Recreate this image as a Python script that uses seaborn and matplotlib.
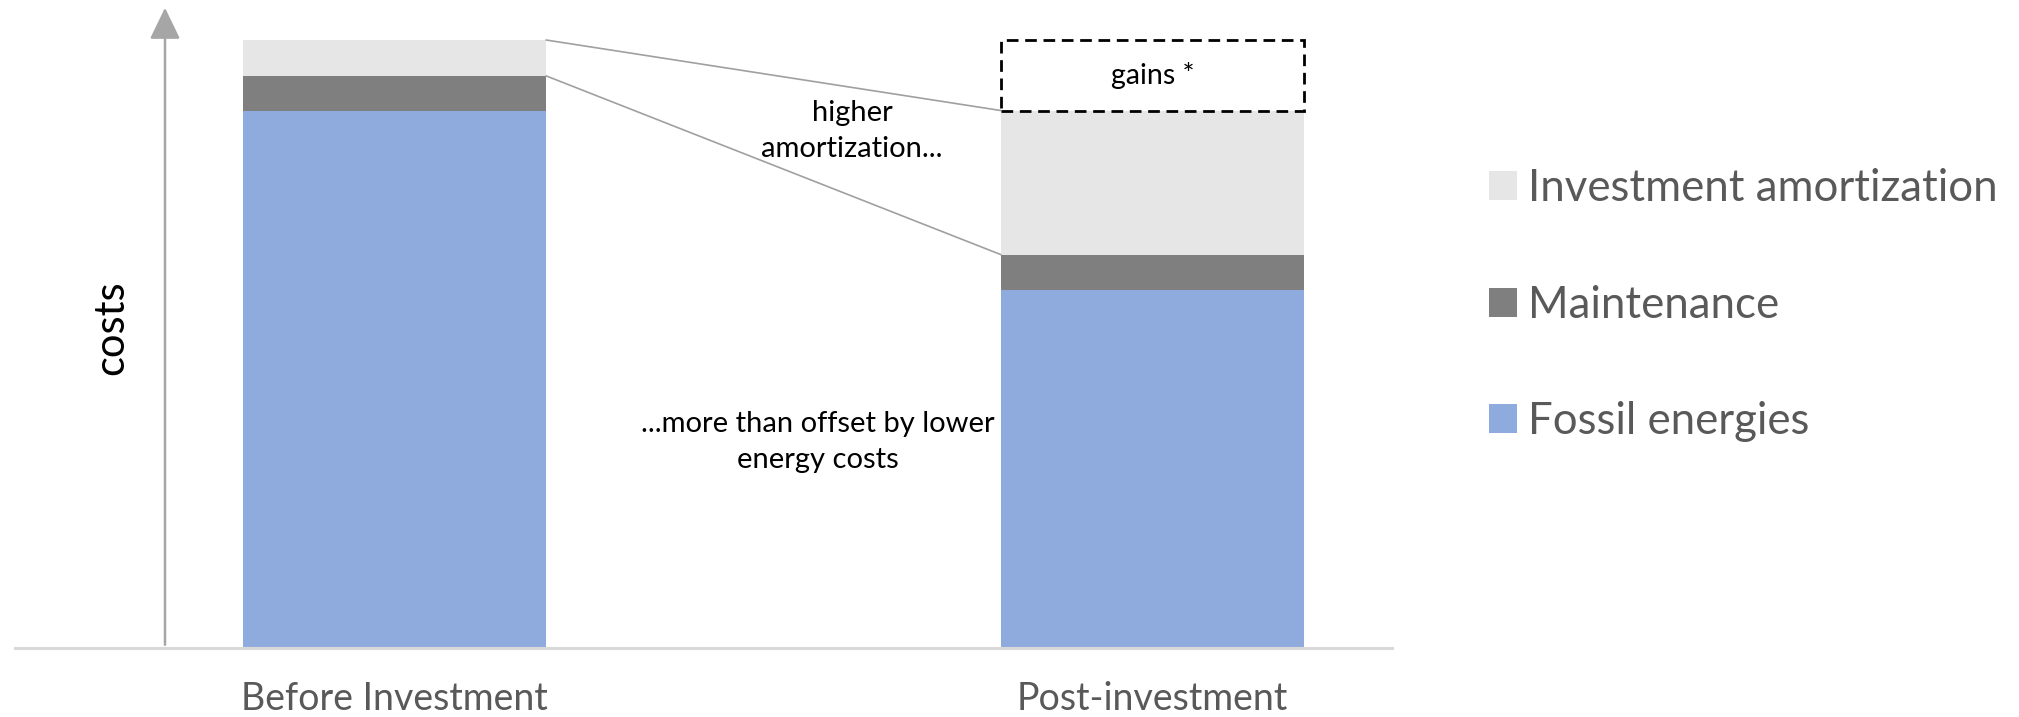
import matplotlib
matplotlib.use("Agg")
import matplotlib.pyplot as plt
import matplotlib.transforms as mtransforms
import seaborn as sns
import pandas as pd

# ---- data (arbitrary cost units, before-total = 100) ----
categories = ["Before Investment", "Post-investment"]
fossil_energies = [88.3, 58.9]
maintenance = [5.8, 5.8]
investment_amortization = [5.9, 23.7]
series_labels = ["Investment amortization", "Maintenance", "Fossil energies"]

# ---- styles ----
COL_FOSSIL = "#8FAADC"
COL_MAINT = "#7F7F7F"
COL_AMORT = "#E6E6E6"
COL_AXIS = "#D9D9D9"
COL_ARROW = "#A6A6A6"
COL_CONN = "#A0A0A0"
COL_LABEL = "#595959"
BAR_W = 0.4

sns.set_theme(style="white")
plt.rcParams['font.family'] = ['Lato', 'DejaVu Sans']

W, H = 2019, 717
fig = plt.figure(figsize=(W / 100, H / 100), dpi=100)
ax = fig.add_axes([15 / W, (H - 648) / H, (1392 - 15) / W, 648 / H])

df = pd.DataFrame({
    "category": categories,
    "fossil": fossil_energies,
    "maintenance": maintenance,
    "amortization": investment_amortization,
})
df["lvl1"] = df["fossil"]
df["lvl2"] = df["lvl1"] + df["maintenance"]
df["lvl3"] = df["lvl2"] + df["amortization"]

for col, color, lab in [("lvl3", COL_AMORT, series_labels[0]),
                        ("lvl2", COL_MAINT, series_labels[1]),
                        ("lvl1", COL_FOSSIL, series_labels[2])]:
    sns.barplot(data=df, x="category", y=col, color=color, saturation=1,
                width=BAR_W, errorbar=None, linewidth=0, edgecolor="none",
                label=lab, ax=ax)

handles, labels = ax.get_legend_handles_labels()
if ax.get_legend() is not None:
    ax.get_legend().remove()

# gains box (dashed) on top of post-investment bar
gains = df["lvl3"].iloc[0] - df["lvl3"].iloc[1]
ax.bar(1, gains, bottom=df["lvl3"].iloc[1], width=BAR_W, fill=False,
       edgecolor="black", linewidth=2.0, linestyle=(0, (4.2, 2.4)), zorder=4)
ax.text(1, df["lvl3"].iloc[1] + gains / 2, "gains *", ha="center", va="center",
        fontsize=20.5, color="black")

# connector lines
x_right0 = 0 + BAR_W / 2
x_left1 = 1 - BAR_W / 2
ax.plot([x_right0, x_left1], [df["lvl3"].iloc[0], df["lvl3"].iloc[1]],
        color=COL_CONN, lw=1.2, zorder=3)
ax.plot([x_right0, x_left1], [df["lvl2"].iloc[0], df["lvl2"].iloc[1]],
        color=COL_CONN, lw=1.2, zorder=3)

# axes limits
ax.set_xlim(-0.5007, 1.316)
ax.set_ylim(0, 106.58)

# y arrow
trans = mtransforms.blended_transform_factory(ax.transData, ax.transAxes)
ax.annotate("", xy=(-0.3028, 0.988), xycoords=trans,
            xytext=(-0.3028, 0.005), textcoords=trans,
            arrowprops=dict(arrowstyle="-|>,head_length=0.97,head_width=0.47",
                            mutation_scale=20, color=COL_ARROW, lw=1.8,
                            shrinkA=0, shrinkB=0))
ax.text(-0.374, 0.494, "costs", transform=trans, rotation=90,
        ha="center", va="center", fontsize=30, color="black")

# annotations
ax.text(0.6036, 85.0, "higher\namortization...", ha="center", va="center",
        fontsize=21, color="black", linespacing=1.45)
ax.text(0.559, 33.9, "...more than offset by lower\nenergy costs", ha="center",
        va="center", fontsize=21, color="black", linespacing=1.45)

# spines / ticks
for s in ["top", "right", "left"]:
    ax.spines[s].set_visible(False)
ax.spines["bottom"].set_color(COL_AXIS)
ax.spines["bottom"].set_linewidth(2.2)
ax.set_yticks([])
ax.set_xlabel("")
ax.set_ylabel("")
ax.tick_params(axis="x", length=0, pad=24, labelsize=27, labelcolor=COL_LABEL)

# legend
fig.legend(handles, labels, loc="center left",
           bbox_to_anchor=(1489 / W, (H - 305) / H), frameon=False,
           fontsize=31.5, labelcolor=COL_LABEL, handlelength=0.65,
           handleheight=0.65, handletextpad=0.25, labelspacing=1.72,
           borderpad=0, borderaxespad=0)

fig.savefig("out.png", dpi=100)
